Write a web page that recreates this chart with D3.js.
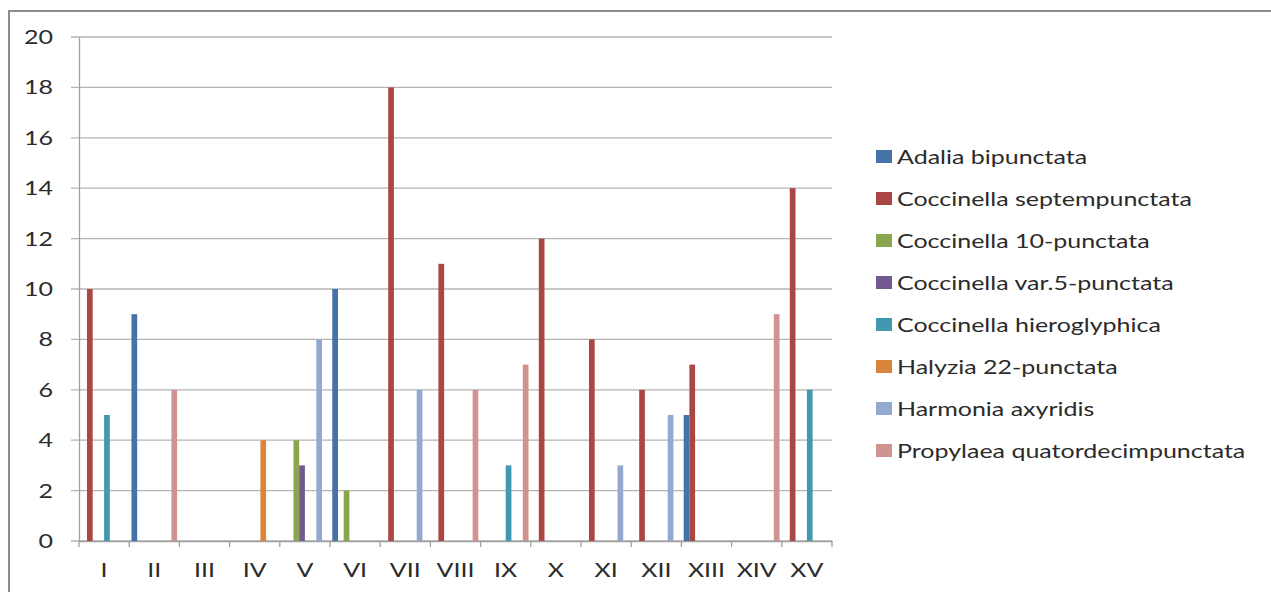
<!DOCTYPE html>
<html><head><meta charset="utf-8">
<script src="https://cdn.jsdelivr.net/npm/d3@7/dist/d3.min.js"></script>
<style>body{margin:0;background:#fff;} svg{display:block;} text{font-family:Lato, "Open Sans", sans-serif; fill:#2b2b2b;}</style>
</head><body><svg id="c" width="1271" height="592"></svg>
<script>
const categories = ["I","II","III","IV","V","VI","VII","VIII","IX","X","XI","XII","XIII","XIV","XV"];
const seriesNames = ["Adalia bipunctata","Coccinella septempunctata","Coccinella 10-punctata","Coccinella var.5-punctata","Coccinella hieroglyphica","Halyzia 22-punctata","Harmonia axyridis","Propylaea quatordecimpunctata"];
const seriesColors = ["#4572A7","#AA4643","#89A54E","#71588F","#4198AF","#DB843D","#93A9CF","#D19392"];
const adalia      = [0,9,0,0,0,10,0,0,0,0,0,0,5,0,0];
const septem      = [10,0,0,0,0,0,18,11,0,12,8,6,7,0,14];
const decem       = [0,0,0,0,4,2,0,0,0,0,0,0,0,0,0];
const var5        = [0,0,0,0,3,0,0,0,0,0,0,0,0,0,0];
const hierog      = [5,0,0,0,0,0,0,0,3,0,0,0,0,0,6];
const halyzia     = [0,0,0,4,0,0,0,0,0,0,0,0,0,0,0];
const harmonia    = [0,0,0,0,8,0,6,0,0,0,3,5,0,0,0];
const propylaea   = [0,6,0,0,0,0,0,6,7,0,0,0,0,9,0];
const seriesValues = [adalia,septem,decem,var5,hierog,halyzia,harmonia,propylaea];
const yTicks = [0,2,4,6,8,10,12,14,16,18,20];

const svg = d3.select("#c");
const L = 79, R = 832, T = 37, B = 541;
const SX = 1.25;

// outer border
svg.append("rect").attr("x",9).attr("y",11).attr("width",1300).attr("height",640)
  .attr("fill","none").attr("stroke","#8c8c8c").attr("stroke-width",2);

const x0 = d3.scaleBand().domain(categories).range([L,R]).paddingInner(0).paddingOuter(0);
const x1 = d3.scaleBand().domain(d3.range(seriesNames.length)).range([0,x0.bandwidth()]).paddingOuter(0.4).paddingInner(0);
const y = d3.scaleLinear().domain([0,20]).range([B,T]);

// gridlines
svg.append("g").selectAll("line").data(yTicks).join("line")
  .attr("x1",L-8).attr("x2",R).attr("y1",d=>y(d)).attr("y2",d=>y(d))
  .attr("stroke","#b4b4b4").attr("stroke-width",1.3);

// y axis
const yAxis = svg.append("g").attr("transform",`translate(${L},0)`)
  .call(d3.axisLeft(y).tickValues(yTicks).tickSize(0).tickPadding(26));
yAxis.select(".domain").attr("stroke","#a0a0a0").attr("stroke-width",1.3);
yAxis.selectAll("text").style("font-size","20px").attr("fill","#2b2b2b")
  .attr("x",0).attr("transform",`translate(-26,0) scale(${SX},1)`);

// x axis
const xAxis = svg.append("g").attr("transform",`translate(0,${B})`)
  .call(d3.axisBottom(x0).tickSize(0).tickPadding(22).tickSizeOuter(0));
xAxis.select(".domain").attr("stroke","#a0a0a0").attr("stroke-width",1.3);
xAxis.selectAll("text").style("font-size","20px").attr("fill","#2b2b2b")
  .attr("transform",`scale(${SX},1)`);
svg.append("g").selectAll("line").data(d3.range(categories.length+1)).join("line")
  .attr("x1",i=>L+i*x0.step()).attr("x2",i=>L+i*x0.step()).attr("y1",B).attr("y2",B+6)
  .attr("stroke","#a0a0a0").attr("stroke-width",1.3);

// bars
const groups = svg.append("g").selectAll("g").data(categories).join("g")
  .attr("transform",d=>`translate(${x0(d)},0)`);
groups.selectAll("rect").data((c,ci)=>seriesValues.map((s,si)=>({si,v:s[ci]})).filter(d=>d.v>0)).join("rect")
  .attr("x",d=>x1(d.si)).attr("width",x1.bandwidth())
  .attr("y",d=>y(d.v)).attr("height",d=>B-y(d.v))
  .attr("fill",d=>seriesColors[d.si]);

// legend
const lg = svg.append("g").attr("transform","translate(876,157)");
const items = lg.selectAll("g").data(seriesNames).join("g").attr("transform",(d,i)=>`translate(0,${i*42})`);
items.append("rect").attr("x",0).attr("y",-7).attr("width",16).attr("height",13).attr("fill",(d,i)=>seriesColors[i]);
items.append("text").attr("x",0).attr("y",0).attr("dy","0.36em").style("font-size","20px")
  .attr("transform",`translate(21,0) scale(${SX},1)`).text(d=>d);
</script></body></html>
